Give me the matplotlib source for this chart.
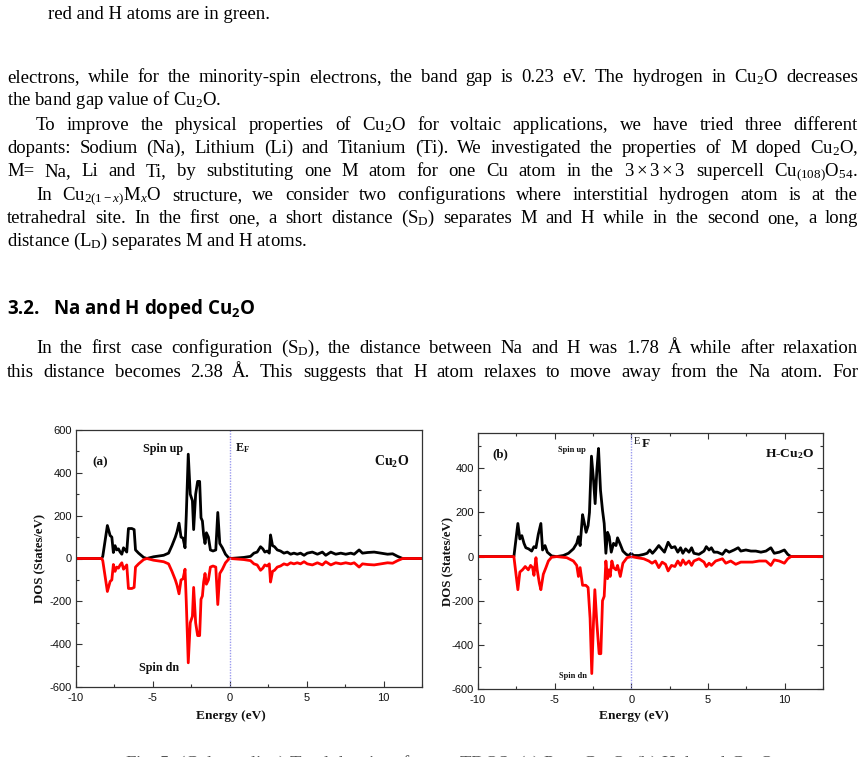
import matplotlib
matplotlib.use("Agg")
import matplotlib.pyplot as plt
from matplotlib.ticker import MultipleLocator

W, H = 864, 757

plt.rcParams['mathtext.fontset'] = 'custom'
plt.rcParams['mathtext.rm'] = 'Liberation Serif'
plt.rcParams['mathtext.it'] = 'Liberation Serif:italic'
plt.rcParams['mathtext.bf'] = 'Liberation Serif:bold'
plt.rcParams['mathtext.sf'] = 'Open Sans:bold'
plt.rcParams['axes.unicode_minus'] = False

# ---- data ----
# (a) pure Cu2O
e_a = [-10, -8.33, -8.26, -7.96, -7.78, -7.67, -7.57, -7.46, -7.35, -7.24, -7.13, -7.02,
       -6.91, -6.8, -6.7, -6.59, -6.37, -6.22, -6.13, -5.93, -5.6, -5.39, -4.96, -4.3,
       -3.98, -3.76, -3.54, -3.43, -3.3, -3.17, -3.04, -2.91, -2.83, -2.7, -2.57, -2.43,
       -2.35, -2.22, -2.09, -1.96, -1.87, -1.78, -1.7, -1.61, -1.52, -1.39, -1.26, -1.09,
       -0.91, -0.78, -0.65, -0.48, -0.28, -0.07, 0.04, 0.91, 1.35, 1.57, 1.78, 2.0, 2.15,
       2.28, 2.43, 2.57, 2.65, 2.78, 2.91, 3.09, 3.3, 3.52, 3.74, 3.96, 4.17, 4.39, 4.6,
       4.83, 5.04, 5.37, 5.7, 6.02, 6.24, 6.57, 6.89, 7.22, 7.54, 7.87, 8.09, 8.41, 8.63,
       8.96, 9.39, 9.83, 10.26, 10.59, 10.91, 11.24, 12.5]
up_a = [0, 0, 10, 154, 107, 100, 28, 60, 40, 45, 30, 20,
        50, 40, 30, 140, 140, 135, 40, 25, 5, 0, 8, 15,
        25, 60, 100, 125, 165, 100, 95, 50, 200, 487, 300, 270,
        135, 300, 360, 360, 190, 175, 110, 70, 120, 100, 40, 35,
        40, 215, 70, 50, 20, 3, 0, 5, 10, 25, 30, 55, 45,
        30, 35, 25, 110, 60, 55, 40, 35, 25, 30, 20, 25, 20, 25,
        15, 25, 30, 20, 30, 15, 30, 20, 25, 20, 25, 20, 40, 25,
        28, 30, 25, 20, 22, 10, 0, 0]
dn_a = [0, 0, -10, -154, -107, -100, -28, -60, -40, -45, -30, -20,
        -50, -40, -30, -140, -140, -135, -40, -25, -5, 0, -8, -15,
        -25, -60, -100, -125, -165, -100, -95, -50, -200, -487, -300, -270,
        -135, -300, -360, -360, -190, -175, -110, -70, -120, -100, -40, -35,
        -40, -215, -70, -50, -20, -3, 0, -5, -10, -25, -30, -55, -45,
        -30, -35, -25, -110, -60, -55, -40, -35, -25, -30, -20, -25, -20, -25,
        -15, -25, -30, -20, -30, -15, -30, -20, -25, -20, -25, -20, -40, -25,
        -28, -30, -25, -20, -22, -10, 0, 0]

# (b) H-Cu2O
e_b_up = [-10, -7.66, -7.4, -7.27, -7.14, -7.0, -6.88, -6.7, -6.5, -6.35, -6.22, -6.07,
          -5.9, -5.79, -5.63, -5.48, -5.2, -4.87, -4.43, -4.1, -3.78, -3.56, -3.45, -3.34,
          -3.18, -3.06, -2.95, -2.82, -2.73, -2.6, -2.47, -2.36, -2.25, -2.14, -2.01, -1.88,
          -1.77, -1.66, -1.55, -1.44, -1.31, -1.16, -1.0, -0.9, -0.72, -0.55, -0.33, -0.15,
          -0.02, 0.15, 0.48, 0.81, 1.03, 1.2, 1.38, 1.57, 1.79, 1.97, 2.16, 2.4, 2.62, 2.84,
          3.03, 3.21, 3.36, 3.54, 3.76, 3.93, 4.08, 4.41, 4.74, 4.89, 5.07, 5.22, 5.39, 5.61,
          5.94, 6.16, 6.38, 6.7, 6.97, 7.14, 7.47, 7.8, 8.12, 8.45, 8.78, 9.1, 9.32, 9.65,
          9.98, 10.2, 10.41, 12.5]
up_b = [0, 0, 150, 80, 95, 60, 40, 35, 25, 45, 40, 100,
        150, 30, 50, 20, 3, 0, 5, 15, 35, 60, 90, 50,
        190, 150, 110, 140, 200, 455, 350, 240, 390, 490, 300, 210,
        150, 15, 110, 90, 20, 60, 50, 85, 55, 25, 10, 5,
        15, 5, 5, 10, 15, 30, 15, 30, 50, 35, 20, 65, 40, 45,
        20, 40, 15, 35, 20, 40, 15, 10, 25, 45, 30, 40, 20, 20,
        10, 30, 20, 30, 40, 25, 30, 25, 25, 20, 25, 40, 15, 20,
        30, 10, 0, 0]
e_b_dn = [-10, -7.66, -7.4, -7.27, -7.1, -6.92, -6.72, -6.57, -6.44, -6.35, -6.22, -6.14,
          -6.0, -5.9, -5.74, -5.57, -5.41, -5.2, -4.87, -4.21, -3.78, -3.56, -3.45, -3.34,
          -3.18, -2.97, -2.82, -2.69, -2.58, -2.47, -2.38, -2.25, -2.1, -1.99, -1.88, -1.77,
          -1.66, -1.55, -1.46, -1.38, -1.27, -1.16, -1.0, -0.9, -0.72, -0.55, -0.28, 0.0,
          0.37, 0.81, 1.14, 1.35, 1.57, 1.79, 2.01, 2.23, 2.4, 2.62, 2.84, 3.03, 3.21, 3.36,
          3.54, 3.76, 3.93, 4.08, 4.41, 4.74, 4.89, 5.07, 5.22, 5.5, 5.94, 6.16, 6.48, 6.81,
          7.14, 7.47, 7.9, 8.34, 8.78, 9.1, 9.32, 9.65, 9.98, 10.2, 10.41, 12.5]
dn_b = [0, 0, -150, -70, -60, -45, -60, -40, -50, -85, -5, -60,
        -120, -150, -80, -50, -20, -3, 0, -5, -20, -40, -90, -50,
        -130, -130, -140, -280, -530, -300, -150, -300, -440, -440, -200, -180,
        -20, -100, -60, -90, -20, -50, -60, -40, -90, -30, -5, 0,
        -5, -10, -20, -30, -20, -50, -25, -35, -65, -40, -45, -20, -40, -15,
        -35, -20, -40, -20, -10, -25, -45, -30, -40, -20, -10, -30, -20, -35,
        -25, -25, -25, -20, -20, -40, -15, -20, -30, -10, 0, 0]

# ---- page text ----
body = [
    ("red and H atoms are in green.", 48, 19, None),
    ("electrons, while for the minority-spin electrons, the band gap is 0.23 eV. The hydrogen in Cu$_2$O decreases", 7, 82, 858),
    ("the band gap value of Cu$_2$O.", 7, 105, None),
    ("To improve the physical properties of Cu$_2$O for voltaic applications, we have tried three different", 36, 130, 858),
    ("dopants: Sodium (Na), Lithium (Li) and Titanium (Ti). We investigated the properties of M doped Cu$_2$O,", 7, 153, 858),
    ("M= Na, Li and Ti, by substituting one M atom for one Cu atom in the $3\\times3\\times3$ supercell Cu$_{(108)}$O$_{54}$.", 7, 176, 858),
    ("In Cu$_{2(1-x)}$M$_x$O structure, we consider two configurations where interstitial hydrogen atom is at the", 36, 200, 858),
    ("tetrahedral site. In the first one, a short distance (S$_\\mathrm{D}$) separates M and H while in the second one, a long", 7, 223, 858),
    ("distance (L$_\\mathrm{D}$) separates M and H atoms.", 7, 246, None),
    ("In the first case configuration (S$_\\mathrm{D}$), the distance between Na and H was 1.78 Å while after relaxation", 36, 353, 858),
    ("this distance becomes 2.38 Å. This suggests that H atom relaxes to move away from the Na atom. For", 7, 377, 858),
]

fig = plt.figure(figsize=(W / 100, H / 100), dpi=100)
renderer = fig.canvas.get_renderer()


def put_line(txt, x0, y, x1, **kw):
    if x1 is None:
        fig.text(x0 / W, 1 - y / H, txt, va='baseline', **kw)
        return
    words = txt.split(' ')
    objs = [fig.text(0, 1 - y / H, w, va='baseline', **kw) for w in words]
    widths = [o.get_window_extent(renderer).width for o in objs]
    gap = (x1 - x0 - sum(widths)) / (len(words) - 1)
    x = x0
    for o, w in zip(objs, widths):
        o.set_x(x / W)
        x += w + gap


for txt, x0, y, x1 in body:
    put_line(txt, x0, y, x1, fontsize=13.5, family='Liberation Serif')

fig.text(7 / W, 1 - 314 / H, "3.2.", fontsize=13.5, family='Open Sans',
         weight='bold', va='baseline')
fig.text(53 / W, 1 - 314 / H, "Na and H doped $\\mathsf{Cu_2O}$", fontsize=13.5,
         family='Open Sans', weight='bold', va='baseline')

# caption below the figure, almost all of it below the page crop
fig.text(125 / W, 1 - 754.3 / H,
         "Fig. 5. (Color online) Total density of states TDOS: (a) Pure Cu$_2$O, (b) H doped Cu$_2$O.",
         fontsize=13.5, family='Liberation Serif', va='top', color='#555555')

# ---- the two DOS panels ----
ax_a = fig.add_axes([76 / W, 1 - 687 / H, 346 / W, 257 / H])
ax_b = fig.add_axes([478 / W, 1 - 689 / H, 345 / W, 256 / H])

serif_b = dict(family='Liberation Serif', weight='bold', color='#111111')

ax_a.plot(e_a, up_a, color='black', lw=2)
ax_a.plot(e_a, dn_a, color='#ff0000', lw=2)
ax_a.set_ylim(-600, 600)

ax_b.plot(e_b_up, up_b, color='black', lw=2)
ax_b.plot(e_b_dn, dn_b, color='#ff0000', lw=2)
ax_b.set_ylim(-600, 560)

for ax in (ax_a, ax_b):
    ax.axvline(0, color='#9a9aee', lw=1, ls=(0, (1, 1)))
    ax.set_xlim(-10, 12.5)
    ax.xaxis.set_major_locator(MultipleLocator(5))
    ax.xaxis.set_minor_locator(MultipleLocator(2.5))
    ax.yaxis.set_major_locator(MultipleLocator(200))
    ax.yaxis.set_minor_locator(MultipleLocator(100))
    ax.tick_params(which='both', direction='in', labelsize=8, colors='#333333',
                   labelcolor='#111111', width=0.8, labelfontfamily='Liberation Sans')
    ax.tick_params(axis='y', pad=3)
    ax.tick_params(axis='x', pad=4)
    ax.tick_params(which='major', length=4)
    ax.tick_params(which='minor', length=2.5)
    for s in ax.spines.values():
        s.set_color('#333333')
        s.set_linewidth(0.9)
    ax.set_xlabel("Energy (eV)", fontsize=9.6, va='center', **serif_b)
    ax.set_ylabel("DOS (States/eV)", fontsize=9.2, va='center', **serif_b)

ax_b.tick_params(which='both', top=True, right=True)

ax_a.xaxis.set_label_coords(0.448, -29 / 257)
ax_a.yaxis.set_label_coords(-36 / 346, 0.5)
ax_b.xaxis.set_label_coords(0.452, -27 / 256)
ax_b.yaxis.set_label_coords(-30 / 345, 0.5)

# annotations (a)
ax_a.text(-8.43, 451, "(a)", fontsize=9.5, ha='center', va='center', **serif_b)
ax_a.text(-4.35, 511, "Spin up", fontsize=8.7, ha='center', va='center', **serif_b)
ax_a.text(0.37, 514, "E$_\\mathbf{F}$", fontsize=8.7, ha='left', va='center', **serif_b)
ax_a.text(10.54, 451, "$\\mathbf{Cu_2O}$", fontsize=10, ha='center', va='center', **serif_b)
ax_a.text(-4.57, -512, "Spin dn", fontsize=8.7, ha='center', va='center', **serif_b)

# annotations (b)
ax_b.text(-8.56, 465, "(b)", fontsize=9.3, ha='center', va='center', **serif_b)
ax_b.text(-3.89, 483, "Spin up", fontsize=6, ha='center', va='center', **serif_b)
ax_b.text(0.15, 522, "E", fontsize=7.5, ha='left', va='center', family='Liberation Serif',
          color='#111111')
ax_b.text(0.65, 508, "F", fontsize=9.5, ha='left', va='center', **serif_b)
ax_b.text(10.3, 465, "H-$\\mathbf{Cu_2O}$", fontsize=9.7, ha='center', va='center', **serif_b)
ax_b.text(-3.78, -539, "Spin dn", fontsize=6, ha='center', va='center', **serif_b)

fig.savefig("out.png", dpi=100)
